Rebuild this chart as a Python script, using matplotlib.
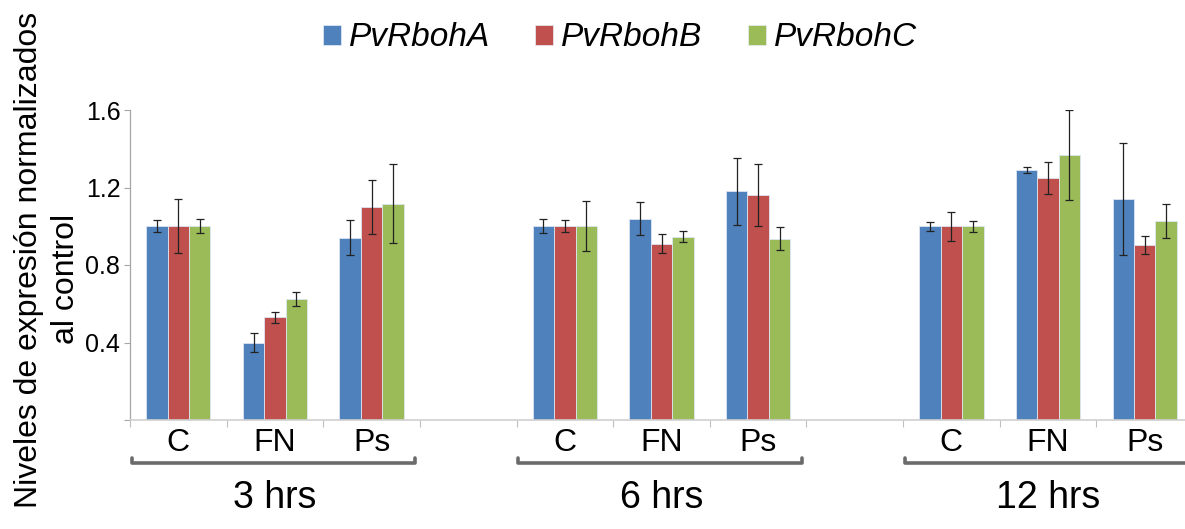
import matplotlib
matplotlib.use("Agg")
import matplotlib.pyplot as plt
from matplotlib.patches import Patch
import matplotlib.transforms as mtransforms

plt.rcParams['font.family'] = ['Liberation Sans', 'DejaVu Sans']

# ---- data ----
series = ["PvRbohA", "PvRbohB", "PvRbohC"]
colors = ["#4F81BD", "#C0504D", "#9BBB59"]
groups = ["3 hrs", "6 hrs", "12 hrs"]
treatments = ["C", "FN", "Ps"]

# values ordered: 3hrs C,FN,Ps, 6hrs C,FN,Ps, 12hrs C,FN,Ps
rbohA = [1.00, 0.40, 0.94, 1.00, 1.04, 1.18, 1.00, 1.29, 1.14]
rbohB = [1.00, 0.53, 1.10, 1.00, 0.91, 1.16, 1.00, 1.25, 0.905]
rbohC = [1.00, 0.624, 1.116, 1.00, 0.947, 0.936, 1.00, 1.369, 1.028]

errA = [0.032, 0.05, 0.09, 0.035, 0.083, 0.174, 0.024, 0.017, 0.29]
errB = [0.14, 0.03, 0.14, 0.03, 0.05, 0.16, 0.074, 0.083, 0.047]
errC = [0.035, 0.035, 0.205, 0.13, 0.03, 0.06, 0.028, 0.233, 0.088]

values = [rbohA, rbohB, rbohC]
errors = [errA, errB, errC]

yticks = [0.4, 0.8, 1.2, 1.6]
ylabel_lines = ["Niveles de expresión normalizados", "al control"]

# ---- figure ----
W, H = 1185, 529
fig = plt.figure(figsize=(W / 100, H / 100), dpi=100)
ax_left, ax_right, ax_bottom, ax_top = 130, 1193, 420, 110
ax = fig.add_axes([ax_left / W, (H - ax_bottom) / H,
                   (ax_right - ax_left) / W, (ax_bottom - ax_top) / H])

# slot positions: 3 per group, one empty slot between groups
positions = []
for g in range(len(groups)):
    for t in range(len(treatments)):
        positions.append(g * 4 + t)

bw = 0.222
for s in range(3):
    xs = [p + (s - 1) * bw for p in positions]
    ax.bar(xs, values[s], width=bw, color=colors[s], edgecolor="#dce6f2",
           linewidth=0.6, zorder=2)
    ax.errorbar(xs, values[s], yerr=errors[s], fmt="none", ecolor="#222222",
                elinewidth=0.9, capsize=3, capthick=0.9, zorder=3)

ax.set_xlim(-0.5, 10.5)
ax.set_ylim(0, 1.6)
ax.set_yticks([0] + yticks)
ax.set_yticklabels([""] + [f"{v:.1f}" for v in yticks], fontsize=18)
ax.tick_params(axis="y", length=4, color="#a6a6a6", width=0.8, pad=3)

# x tick marks at slot boundaries
ax.set_xticks([i - 0.5 for i in range(12)])
ax.set_xticklabels([])
ax.tick_params(axis="x", length=5, color="#c0c0c0", width=0.8)

for side in ["top", "right"]:
    ax.spines[side].set_visible(False)
ax.spines["left"].set_color("#a6a6a6")
ax.spines["bottom"].set_color("#d0d0d0")
ax.spines["left"].set_linewidth(0.9)
ax.spines["bottom"].set_linewidth(1.2)

trans = mtransforms.blended_transform_factory(ax.transData, ax.transAxes)
for p, lab in zip(positions, treatments * 3):
    ax.text(p, -0.074, lab, transform=trans, ha="center", va="center",
            fontsize=23, clip_on=False)

bracket_y = -0.139
for g, name in enumerate(groups):
    x0 = g * 4 - 0.48
    x1 = g * 4 + 2.45
    ax.plot([x0, x0, x1, x1], [bracket_y + 0.016, bracket_y, bracket_y, bracket_y + 0.016],
            transform=trans, color="#6b6b6b", lw=2.6, clip_on=False,
            solid_joinstyle="round", solid_capstyle="round")
    ax.text(g * 4 + 1, -0.252, name, transform=trans, ha="center", va="center",
            fontsize=27, clip_on=False)

# y label (two lines)
fig.text(29 / W, 1 - 260 / H, ylabel_lines[0], rotation=90,
         ha="center", va="center", fontsize=23)
fig.text(66 / W, 1 - 279 / H, ylabel_lines[1], rotation=90,
         ha="center", va="center", fontsize=23)

# legend
handles = [Patch(facecolor=c, edgecolor="#e8eef6", linewidth=0.5) for c in colors]
leg = fig.legend(handles, series, loc="center", bbox_to_anchor=(620 / W, 1 - 38 / H),
                 ncol=3, frameon=False, handlelength=0.54, handleheight=0.54,
                 handletextpad=0.24, columnspacing=1.35,
                 prop={"style": "italic", "size": 24})

fig.savefig("out.png", dpi=100)
